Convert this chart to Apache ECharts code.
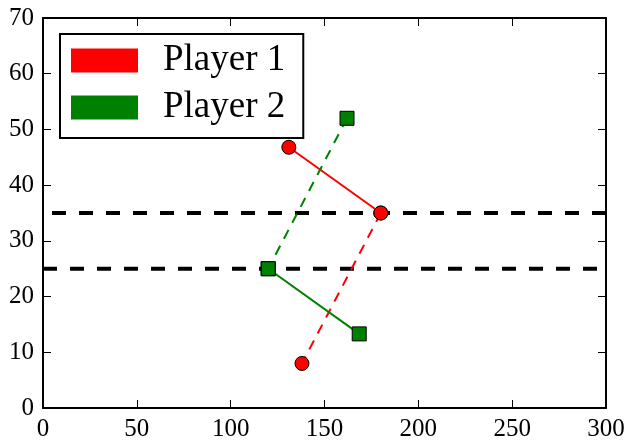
<!DOCTYPE html>
<html>
<head>
<meta charset="utf-8">
<script src="https://cdn.jsdelivr.net/npm/echarts@6/dist/echarts.min.js"></script>
<style>
  html, body { margin: 0; padding: 0; background: #fff; }
  #chart { width: 628px; height: 442px; }
</style>
</head>
<body>
<div id="chart"></div>
<script>
// Axis ranges and ticks
const xTicks = [0, 50, 100, 150, 200, 250, 300];
const yTicks = [0, 10, 20, 30, 40, 50, 60, 70];

// Player 1 (red circles): solid move, then dashed move
const player1Solid = [[131, 46.8], [180, 35]];
const player1Dashed = [[180, 35], [138, 8]];

// Player 2 (green squares): dashed move, then solid move
const player2Dashed = [[162, 52], [120, 25]];
const player2Solid = [[120, 25], [168.5, 13.3]];

// Horizontal reference levels
const upperLevel = 35;
const lowerLevel = 25;

const RED = '#ff0000';
const GREEN = '#008000';
const FONT = '"Liberation Serif", "DejaVu Serif", serif';

const chart = echarts.init(document.getElementById('chart'), null, { renderer: 'canvas' });

const axisCommon = {
  type: 'value',
  axisLine: { show: true, onZero: false, lineStyle: { color: '#000', width: 2 } },
  axisTick: { show: true, inside: true, length: 8, lineStyle: { color: '#000', width: 1 } },
  splitLine: { show: false }
};

function playerSeries(name, data, color, symbol, dashed) {
  return {
    name: name,
    type: 'line',
    data: data,
    symbol: symbol,
    symbolSize: 14,
    showSymbol: true,
    z: 5,
    itemStyle: { color: color, borderColor: '#000', borderWidth: 1 },
    lineStyle: { color: color, width: 2, type: dashed ? [10, 8] : 'solid' },
    emphasis: { disabled: true },
    animation: false
  };
}

function levelSeries(level, reversed, offset) {
  const pts = reversed ? [[xTicks[xTicks.length - 1], level], [xTicks[0], level]]
                       : [[xTicks[0], level], [xTicks[xTicks.length - 1], level]];
  return {
    type: 'line',
    data: pts,
    symbol: 'none',
    z: 3,
    lineStyle: { color: '#000', width: 4, type: [14, 13], dashOffset: offset },
    emphasis: { disabled: true },
    animation: false
  };
}

const option = {
  backgroundColor: '#fff',
  animation: false,
  grid: { left: 43, right: 22, top: 18, bottom: 32, containLabel: false },
  xAxis: [
    Object.assign({}, axisCommon, {
      min: xTicks[0], max: xTicks[xTicks.length - 1], interval: 50,
      axisLabel: { color: '#000', fontFamily: FONT, fontSize: 25, margin: 9 }
    }),
    Object.assign({}, axisCommon, {
      position: 'top',
      min: xTicks[0], max: xTicks[xTicks.length - 1], interval: 50,
      axisLabel: { show: false }
    })
  ],
  yAxis: [
    Object.assign({}, axisCommon, {
      min: yTicks[0], max: yTicks[yTicks.length - 1], interval: 10,
      axisLabel: { color: '#000', fontFamily: FONT, fontSize: 25, margin: 9 }
    }),
    Object.assign({}, axisCommon, {
      position: 'right',
      min: yTicks[0], max: yTicks[yTicks.length - 1], interval: 10,
      axisLabel: { show: false }
    })
  ],
  legend: {
    orient: 'vertical',
    left: 60,
    top: 34,
    padding: [8, 18, 12, 11],
    itemWidth: 67,
    itemHeight: 24,
    itemGap: 10,
    backgroundColor: '#fff',
    borderColor: '#000',
    borderWidth: 2,
    borderRadius: 0,
    selectedMode: false,
    textStyle: { color: '#000', fontFamily: FONT, fontSize: 37, padding: [0, 0, 0, 20] },
    data: [
      { name: 'Player 1', icon: 'rect', itemStyle: { color: RED, borderWidth: 0 } },
      { name: 'Player 2', icon: 'rect', itemStyle: { color: GREEN, borderWidth: 0 } }
    ]
  },
  series: [
    levelSeries(upperLevel, true, 0),
    levelSeries(lowerLevel, false, 0),
    playerSeries('Player 1', player1Solid, RED, 'circle', false),
    playerSeries('Player 1', player1Dashed, RED, 'circle', true),
    playerSeries('Player 2', player2Dashed, GREEN, 'rect', true),
    playerSeries('Player 2', player2Solid, GREEN, 'rect', false)
  ]
};

chart.setOption(option);
</script>
</body>
</html>
